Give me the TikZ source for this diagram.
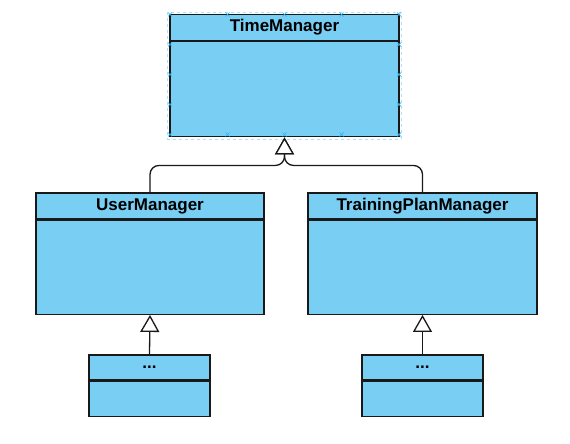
\documentclass[tikz,border=0pt]{standalone}
\usepackage{fontspec}
\setmainfont{Liberation Sans}
\usepackage{tikz}
\usetikzlibrary{positioning}
\usetikzlibrary{arrows.meta}
\definecolor{classblue}{RGB}{120,206,243}
\definecolor{handleblue}{RGB}{41,182,242}
\tikzset{classhead/.style={rectangle, draw=black!90, fill=classblue, line width=1.3pt, inner sep=0pt,
        font=\fontsize{17}{20}\selectfont\bfseries, anchor=center}}
\tikzset{classbody/.style={rectangle, draw=black!90, fill=classblue, line width=1.3pt, inner sep=0pt}}
\tikzset{inherit/.style={line width=1.3pt, black!90, -{Triangle[fill=white, length=17pt, width=19pt]}}}

\begin{document}
\begin{tikzpicture}[x=1pt, y=-1pt]
    \useasboundingbox (0,0) rectangle (570,444);

    % top class
    \node[classhead, minimum width=229pt, minimum height=26pt]   (tm)      at (284.5,27.5)       {TimeManager};
    \node[classbody, minimum width=229pt, minimum height=95pt]   (tmbody)  [below=0pt of tm]     {};

    % middle classes
    \node[classhead, minimum width=228pt, minimum height=26pt]   (um)      at (150,206)          {UserManager};
    \node[classbody, minimum width=228pt, minimum height=94pt]   (umbody)  [below=0pt of um]     {};
    \node[classhead, minimum width=229pt, minimum height=26pt]   (tpm)     at (422.5,206)        {TrainingPlanManager};
    \node[classbody, minimum width=229pt, minimum height=94pt]   (tpmbody) [below=0pt of tpm]    {};

    % bottom classes
    \node[classhead, minimum width=121pt, minimum height=25pt]   (usub)    at (149.5,367.5)      {...};
    \node[classbody, minimum width=121pt, minimum height=35pt]   (usubbody)  [below=0pt of usub] {};
    \node[classhead, minimum width=121pt, minimum height=25pt]   (tsub)    at (422.5,367.5)      {...};
    \node[classbody, minimum width=121pt, minimum height=35pt]   (tsubbody)  [below=0pt of tsub] {};

    % selection frame
    \draw[handleblue!40, dashed, line width=0.8pt] ([shift={(-1.5pt,1.5pt)}]tm.north west) rectangle ([shift={(1.5pt,-1.5pt)}]tmbody.south east);
    \foreach \hx in {170,227.5,284.5,341.5,399} {
        \foreach \hy in {14.5,134.5} {
            \draw[handleblue, line width=0.7pt] (\hx-2,\hy-2) -- (\hx+2,\hy+2) (\hx-2,\hy+2) -- (\hx+2,\hy-2);
        }
    }
    \foreach \hx in {170,399} {
        \foreach \hy in {44.5,74.5,104.5} {
            \draw[handleblue, line width=0.7pt] (\hx-2,\hy-2) -- (\hx+2,\hy+2) (\hx-2,\hy+2) -- (\hx+2,\hy-2);
        }
    }

    % generalisation
    \coordinate (fork) at ([yshift=-28pt]tmbody.south);
    \draw[inherit, rounded corners=9pt] (um.north) |- (fork) -- (tmbody.south);
    \draw[inherit, rounded corners=9pt] (tpm.north) |- (fork) -- (tmbody.south);
    \draw[inherit] (usub.north) -- (umbody.south);
    \draw[inherit] (tsub.north) -- (tpmbody.south);
\end{tikzpicture}
\end{document}
